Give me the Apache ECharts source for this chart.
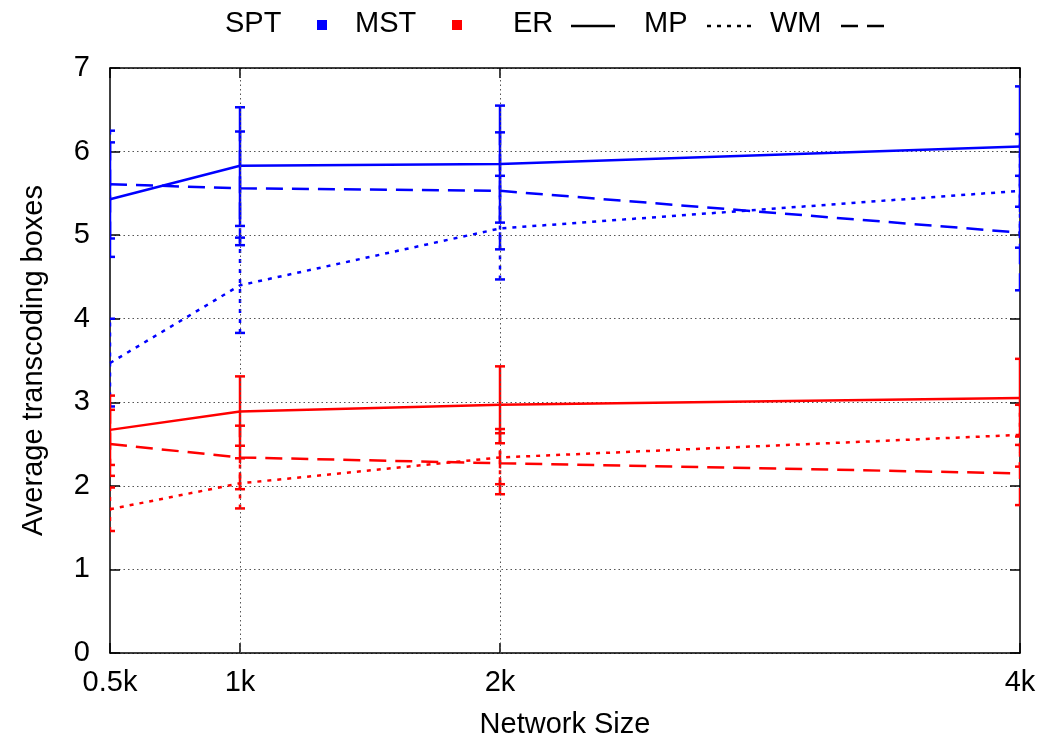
<!DOCTYPE html>
<html>
<head>
<meta charset="utf-8">
<script src="https://cdn.jsdelivr.net/npm/echarts@6/dist/echarts.min.js"></script>
<style>
html,body{margin:0;padding:0;background:#fff;}
#chart{width:1039px;height:744px;}
</style>
</head>
<body>
<div id="chart"></div>
<script>
// ---- data ----
const xValues = [500, 1000, 2000, 4000];
const xLabels = ['0.5k', '1k', '2k', '4k'];
const yTicks = [0, 1, 2, 3, 4, 5, 6, 7];

// SPT (blue)
const sptER = [5.43, 5.83, 5.85, 6.06];
const sptERlow = [4.74, 5.11, 5.15, 5.34];
const sptERhigh = [6.11, 6.53, 6.55, 6.78];
const sptMP = [3.47, 4.40, 5.08, 5.53];
const sptMPlow = [2.95, 3.83, 4.47, 4.85];
const sptMPhigh = [4.00, 4.97, 5.71, 6.21];
const sptWM = [5.61, 5.56, 5.53, 5.03];
const sptWMlow = [4.96, 4.88, 4.83, 4.34];
const sptWMhigh = [6.25, 6.24, 6.23, 5.71];

// MST (red)
const mstER = [2.67, 2.89, 2.97, 3.05];
const mstERlow = [2.25, 2.48, 2.51, 2.59];
const mstERhigh = [3.08, 3.31, 3.43, 3.52];
const mstMP = [1.72, 2.03, 2.34, 2.61];
const mstMPlow = [1.46, 1.73, 2.02, 2.23];
const mstMPhigh = [1.98, 2.33, 2.68, 2.97];
const mstWM = [2.50, 2.34, 2.27, 2.15];
const mstWMlow = [2.12, 1.96, 1.90, 1.77];
const mstWMhigh = [2.91, 2.72, 2.63, 2.49];

const legendNames = ['SPT', 'MST', 'ER', 'MP', 'WM'];

// ---- styles ----
const BLUE = '#0000ff', RED = '#ff0000';
const FONT = 'Liberation Sans, Arial, sans-serif';
const FS = 29;
const LW = 2.5;
const DASH = { ER: null, MP: [4, 6], WM: [17, 9] };

function pts(vals) { return xValues.map((x, i) => [x, vals[i]]); }
function errPts(lo, hi) { return xValues.map((x, i) => [x, lo[i], hi[i]]); }

function lineSeries(name, vals, color, dash) {
  return {
    name: name, type: 'line', data: pts(vals), symbol: 'none', z: 4,
    lineStyle: { color: color, width: LW, type: dash ? dash : 'solid' },
    silent: true, animation: false
  };
}
function errSeries(lo, hi, color, dash) {
  return {
    type: 'custom', data: errPts(lo, hi), clip: true, z: 3, silent: true, animation: false,
    renderItem: function (params, api) {
      const x = api.value(0), l = api.value(1), h = api.value(2);
      const p1 = api.coord([x, l]), p2 = api.coord([x, h]);
      const w = 5;
      const st = { stroke: color, lineWidth: LW, lineDash: dash || null, fill: null };
      const cap = { stroke: color, lineWidth: LW, fill: null };
      return {
        type: 'group',
        children: [
          { type: 'line', shape: { x1: p1[0], y1: p1[1], x2: p2[0], y2: p2[1] }, style: st },
          { type: 'line', shape: { x1: p1[0] - w, y1: p1[1], x2: p1[0] + w, y2: p1[1] }, style: cap },
          { type: 'line', shape: { x1: p2[0] - w, y1: p2[1], x2: p2[0] + w, y2: p2[1] }, style: cap }
        ]
      };
    }
  };
}

const gridLineStyle = { color: '#555', width: 1, type: [1.5, 3] };

const series = [
  errSeries(sptERlow, sptERhigh, BLUE, DASH.ER),
  errSeries(sptMPlow, sptMPhigh, BLUE, DASH.MP),
  errSeries(sptWMlow, sptWMhigh, BLUE, DASH.WM),
  errSeries(mstERlow, mstERhigh, RED, DASH.ER),
  errSeries(mstMPlow, mstMPhigh, RED, DASH.MP),
  errSeries(mstWMlow, mstWMhigh, RED, DASH.WM),
  lineSeries('SPT ER', sptER, BLUE, DASH.ER),
  lineSeries('SPT MP', sptMP, BLUE, DASH.MP),
  lineSeries('SPT WM', sptWM, BLUE, DASH.WM),
  lineSeries('MST ER', mstER, RED, DASH.ER),
  lineSeries('MST MP', mstMP, RED, DASH.MP),
  lineSeries('MST WM', mstWM, RED, DASH.WM),
  {
    type: 'line', data: [], silent: true, z: 1,
    markLine: {
      silent: true, symbol: ['none', 'none'], label: { show: false },
      lineStyle: gridLineStyle, animation: false,
      data: xValues.slice(1, xValues.length - 1).map(v => ({ xAxis: v }))
    }
  }
];

// legend drawn as graphic: text followed by key sample
const legY = 24;
const legText = (t, x) => ({ type: 'text', style: { text: t, x: x, y: legY, font: FS + 'px ' + FONT, fill: '#000', verticalAlign: 'middle', align: 'left' } });
const legRect = (x, color) => ({ type: 'rect', shape: { x: x, y: legY - 4, width: 10, height: 10 }, style: { fill: color } });
const legLine = (x, dash) => ({ type: 'line', shape: { x1: x, y1: legY + 2, x2: x + 44, y2: legY + 2 }, style: { stroke: '#000', lineWidth: LW, lineDash: dash || null } });

const graphic = [
  legText(legendNames[0], 225), legRect(317, BLUE),
  legText(legendNames[1], 355), legRect(452, RED),
  legText(legendNames[2], 513), legLine(571, DASH.ER),
  legText(legendNames[3], 644), legLine(707, DASH.MP),
  legText(legendNames[4], 770), legLine(841, DASH.WM)
];

const axisLineStyle = { color: '#000', width: 1.5 };

const option = {
  backgroundColor: '#fff',
  animation: false,
  textStyle: { fontFamily: FONT },
  grid: { left: 110, right: 19, top: 68, bottom: 86, containLabel: false },
  graphic: graphic,
  xAxis: [
    {
      type: 'value', min: xValues[0], max: xValues[xValues.length - 1], position: 'bottom',
      name: 'Network Size', nameLocation: 'middle', nameGap: 57,
      nameTextStyle: { fontSize: FS, color: '#000', fontFamily: FONT },
      axisLine: { show: true, onZero: false, lineStyle: axisLineStyle },
      axisTick: { show: true, inside: true, length: 10, customValues: xValues, lineStyle: { color: '#000', width: 1.5 } },
      axisLabel: {
        show: true, customValues: xValues, margin: 15, fontSize: FS, color: '#000', fontFamily: FONT,
        formatter: v => { const i = xValues.indexOf(v); return i >= 0 ? xLabels[i] : ''; }
      },
      splitLine: { show: false }
    },
    {
      type: 'value', min: xValues[0], max: xValues[xValues.length - 1], position: 'top',
      axisLine: { show: true, onZero: false, lineStyle: axisLineStyle },
      axisTick: { show: true, inside: true, length: 10, customValues: xValues, lineStyle: { color: '#000', width: 1.5 } },
      axisLabel: { show: false }, splitLine: { show: false }
    }
  ],
  yAxis: [
    {
      type: 'value', min: yTicks[0], max: yTicks[yTicks.length - 1], interval: 1, position: 'left',
      name: 'Average transcoding boxes', nameLocation: 'middle', nameGap: 62,
      nameTextStyle: { fontSize: FS, color: '#000', fontFamily: FONT },
      axisLine: { show: true, onZero: false, lineStyle: axisLineStyle },
      axisTick: { show: true, inside: true, length: 10, lineStyle: { color: '#000', width: 1.5 } },
      axisLabel: { show: true, margin: 20, fontSize: FS, color: '#000', fontFamily: FONT },
      splitLine: { show: true, lineStyle: gridLineStyle }
    },
    {
      type: 'value', min: yTicks[0], max: yTicks[yTicks.length - 1], interval: 1, position: 'right',
      axisLine: { show: true, onZero: false, lineStyle: axisLineStyle },
      axisTick: { show: true, inside: true, length: 10, lineStyle: { color: '#000', width: 1.5 } },
      axisLabel: { show: false }, splitLine: { show: false }
    }
  ],
  series: series
};

const chart = echarts.init(document.getElementById('chart'), null, { renderer: 'canvas' });
chart.setOption(option);
</script>
</body>
</html>
